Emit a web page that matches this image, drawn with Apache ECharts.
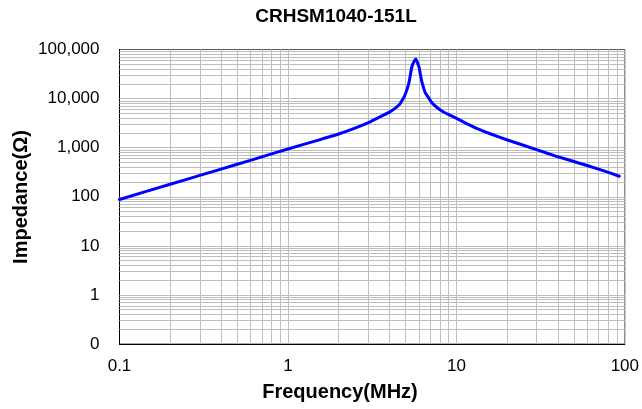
<!DOCTYPE html>
<html>
<head>
<meta charset="utf-8">
<script src="https://cdn.jsdelivr.net/npm/echarts@6/dist/echarts.min.js"></script>
<style>
html,body{margin:0;padding:0;background:#fff;}
#chart{width:642px;height:409px;}
</style>
</head>
<body>
<div id="chart"></div>
<script>
// ---- data ----
const chartTitle = 'CRHSM1040-151L';
const xAxisName = 'Frequency(MHz)';
const yAxisName = 'Impedance(Ω)';
const freqMHz = [0.1, 0.2, 0.3, 0.5, 0.7, 1, 1.5, 2, 2.5, 3.1, 3.65, 4.0, 4.3, 4.58, 4.77, 4.95, 5.13, 5.25, 5.34, 5.43, 5.58, 5.75, 5.87, 6.01, 6.11, 6.22, 6.37, 6.52, 6.82, 7.2, 7.7, 8.2, 9.2, 10.1, 11.5, 13.3, 16, 19.9, 25, 29.9, 39.3, 51.5, 70.6, 92.7];
const impedanceOhm = [88, 180, 272, 458, 650, 940, 1410, 1900, 2500, 3400, 4510, 5300, 6250, 7500, 9200, 11800, 16500, 22500, 31500, 43000, 55200, 64000, 54000, 43000, 31500, 23000, 17100, 13400, 10500, 8000, 6500, 5600, 4550, 3900, 3100, 2450, 1900, 1450, 1120, 910, 665, 505, 362, 262];
const xTicks = [0.1, 1, 10, 100];
const yTicks = [0.1, 1, 10, 100, 1000, 10000, 100000];
const minorSteps = [2, 3, 4, 5, 6, 7, 8, 9];

// gridline values (major inner decades + minor 2..9 in each decade)
function gridValues(ticks) {
  const out = [];
  for (let i = 0; i < ticks.length - 1; i++) {
    if (i > 0) out.push(ticks[i]);
    minorSteps.forEach(k => out.push(+(ticks[i] * k).toPrecision(6)));
  }
  return out;
}
const xGrid = gridValues(xTicks);
const yGrid = gridValues(yTicks);

const chart = echarts.init(document.getElementById('chart'), null, {renderer: 'canvas'});
const font = 'Arial, "Liberation Sans", sans-serif';
const gridColor = '#bebebe';

chart.setOption({
  animation: false,
  backgroundColor: '#ffffff',
  grid: {
    left: 119.5, top: 49.5, width: 509, height: 294.5,
    show: true, borderColor: '#595959', borderWidth: 1, backgroundColor: 'transparent'
  },
  graphic: [
    {type: 'text', x: 336, y: 17, style: {text: chartTitle, font: 'bold 19px ' + font, fill: '#000', textAlign: 'center', textVerticalAlign: 'middle'}},
    {type: 'text', x: 340, y: 392, style: {text: xAxisName, font: 'bold 20px ' + font, fill: '#000', textAlign: 'center', textVerticalAlign: 'middle'}},
    {type: 'text', x: 21, y: 197, rotation: Math.PI / 2, style: {text: yAxisName, font: 'bold 20px ' + font, fill: '#000', textAlign: 'center', textVerticalAlign: 'middle'}}
  ],
  xAxis: {
    type: 'log', logBase: 10, min: xTicks[0], max: xTicks[xTicks.length - 1],
    axisLine: {show: true, lineStyle: {color: '#000', width: 1}},
    axisTick: {show: false},
    splitLine: {show: false},
    axisLabel: {
      color: '#000', fontSize: 17, fontFamily: font, margin: 14,
      formatter: v => v < 1 ? String(+v.toPrecision(3)) : String(Math.round(v))
    }
  },
  yAxis: {
    type: 'log', logBase: 10, min: yTicks[0], max: yTicks[yTicks.length - 1],
    axisLine: {show: true, lineStyle: {color: '#000', width: 1}},
    axisTick: {show: false},
    splitLine: {show: false},
    axisLabel: {
      color: '#000', fontSize: 17, fontFamily: font, margin: 20,
      formatter: v => v < 1 ? '0' : Math.round(v).toLocaleString('en-US')
    }
  },
  series: [
    {
      type: 'line', z: 1, silent: true,
      data: freqMHz.map((f, i) => [f, impedanceOhm[i]]),
      lineStyle: {opacity: 0}, showSymbol: false, symbol: 'none',
      markLine: {
        silent: true, symbol: ['none', 'none'], animation: false,
        label: {show: false},
        lineStyle: {color: gridColor, width: 1, type: 'solid'},
        emphasis: {disabled: true},
        data: xGrid.map(v => ({xAxis: v})).concat(yGrid.map(v => ({yAxis: v})))
      }
    },
    {
      type: 'line', z: 5,
      data: freqMHz.map((f, i) => [f, impedanceOhm[i]]),
      showSymbol: false, symbol: 'none',
      smooth: 0.15,
      lineStyle: {color: '#0000ff', width: 3, join: 'round', cap: 'round'}
    }
  ]
});
</script>
</body>
</html>
